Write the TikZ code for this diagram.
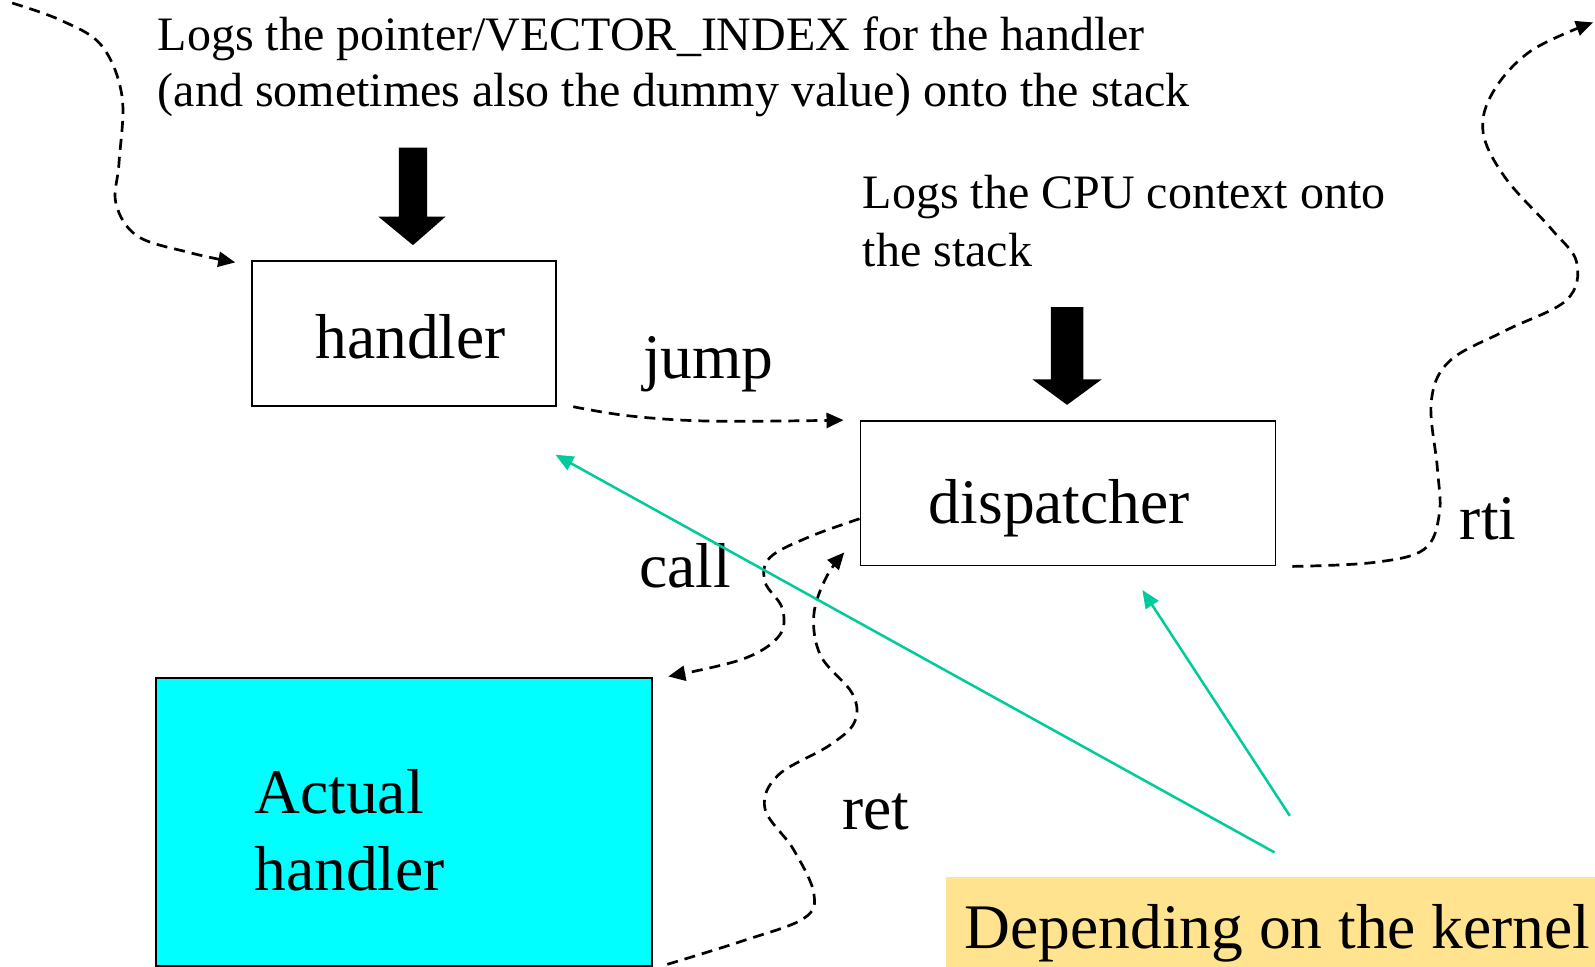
\documentclass[tikz,border=0pt]{standalone}
\usepackage{fontspec}
\setmainfont{Liberation Serif}
\usetikzlibrary{arrows.meta}
\definecolor{kgreen}{HTML}{00CC99}
\definecolor{kyellow}{HTML}{FFE38F}
\definecolor{kcyan}{HTML}{00FFFF}
\begin{document}
\begin{tikzpicture}[x=1.0172pt,y=-1.0172pt,
  boxst/.style={draw=black,line width=1.9pt,inner sep=0pt},
  small/.style={inner sep=0pt,anchor=base west,font=\fontsize{48}{57}\selectfont},
  big/.style={inner sep=0pt,anchor=base west,font=\fontsize{63.5}{76}\selectfont},
  conn/.style={line width=2.7pt,dash pattern=on 11pt off 7pt,-{Triangle[length=17pt,width=15pt]}},
  gconn/.style={draw=kgreen,line width=2.5pt,-{Triangle[length=18pt,width=15pt]}},
  blockarrow/.style={fill=black}]
\useasboundingbox (0,0) rectangle (1568,950);
% boxes
\node[boxst,minimum width=304.1pt,minimum height=144.4pt,anchor=north west] (handler) at (247,256) {};
\node[boxst,minimum width=415pt,minimum height=144.4pt,anchor=north west] (disp) at (845,413) {};
\node[boxst,fill=kcyan,minimum width=496.4pt,minimum height=288pt,anchor=north west] (actual) at (152,666) {};
\node[fill=kyellow,inner sep=0pt,minimum width=681.5pt,minimum height=112pt,anchor=north west] (kbox) at (930,862) {};
% texts
\node[small] (t1) at (155,50) {Logs the pointer/VECTOR\_INDEX for the handler};
\node[small] (t2) at (155,105) {(and sometimes also the dummy value) onto the stack};
\node[small] (t3) at (848,205) {Logs the CPU context onto};
\node[small] (t4) at (848,262) {the stack};
\node[big] (lhandler) at (310,352) {handler};
\node[big] (ldisp) at (913,515) {dispatcher};
\node[big] (ljump) at (632,372) {jump};
\node[big] (lcall) at (628,578) {call};
\node[big] (lret) at (828,815) {ret};
\node[big] (lrti) at (1435,530) {rti};
\node[big] (lact1) at (250,800) {Actual};
\node[big] (lact2) at (250,875) {handler};
\node[big] (lkern) at (948,932) {Depending on the kernel};
% block arrows
\fill[blockarrow] (392,145) -- (420,145) -- (420,213) -- (438,213) -- (406,241) -- (372,213) -- (392,213) -- cycle;
\fill[blockarrow] (1033,302) -- (1065,302) -- (1065,373) -- (1083,373) -- (1049,398) -- (1015,373) -- (1033,373) -- cycle;
% free ends
\coordinate (s1) at (12,3);
\coordinate (e1) at ([xshift=-16pt,yshift=-2pt]handler.north west);
\coordinate (s2) at ([xshift=16pt]handler.south east);
\coordinate (e2) at ([xshift=-16pt]disp.north west);
\coordinate (s3) at (845,510);
\coordinate (e3) at (657,665);
\coordinate (s4) at (656,948);
\coordinate (e4) at (830,543);
\coordinate (s5) at ([xshift=16pt]disp.south east);
\coordinate (e5) at (1566,22);
\coordinate (g1s) at (1253,838);
\coordinate (g1e) at (546,447);
\coordinate (g2s) at (1268,802);
\coordinate (g2e) at (1123,580);
% dashed connectors
\draw[conn] plot[smooth,tension=0.6] coordinates {(s1) (60,20) (100,45) (120,95) (117,160) (114,200) (135,232) (185,248) (e1)};
\draw[conn] plot[smooth,tension=0.6] coordinates {(s2) (620,409) (700,414) (e2)};
\draw[conn] plot[smooth,tension=0.6] coordinates {(s3) (795,528) (757,548) (752,572) (769,598) (766,625) (730,648) (e3)};
\draw[conn] plot[smooth,tension=0.6] coordinates {(s4) (730,925) (790,903) (800,878) (780,835) (752,795) (765,762) (815,733) (840,710) (838,682) (807,645) (800,605) (812,568) (e4)};
\draw[conn] plot[smooth,tension=0.6] coordinates {(s5) (1350,553) (1400,540) (1415,505) (1413,460) (1407,395) (1425,355) (1480,325) (1540,295) (1550,258) (1525,225) (1480,175) (1458,130) (1468,90) (1505,50) (e5)};
% green connectors
\draw[gconn] (g1s) -- (g1e);
\draw[gconn] (g2s) -- (g2e);
\end{tikzpicture}
\end{document}
